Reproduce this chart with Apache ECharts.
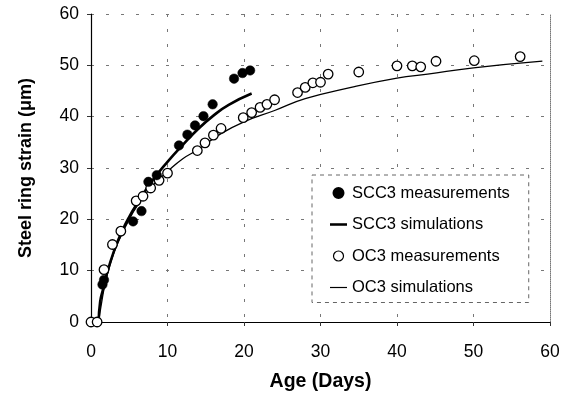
<!DOCTYPE html>
<html>
<head>
<meta charset="utf-8">
<script src="https://cdn.jsdelivr.net/npm/echarts@6/dist/echarts.min.js"></script>
<style>html,body{margin:0;padding:0;background:#fff}#c{width:576px;height:400px}</style>
</head>
<body>
<div id="c"></div>
<script>
const xTicks = [0, 10, 20, 30, 40, 50, 60];
const yTicks = [0, 10, 20, 30, 40, 50, 60];

const scc3MeasX = [1.5, 1.7, 5.5, 6.6, 7.5, 8.6, 11.5, 12.6, 13.6, 14.7, 15.9, 18.7, 19.8, 20.8];
const scc3MeasY = [7.3, 8.2, 19.6, 21.6, 27.3, 28.6, 34.4, 36.5, 38.3, 40.1, 42.4, 47.4, 48.5, 49.0];

const scc3SimX = [1.0, 1.2, 1.6, 2, 3, 4, 5, 6, 8, 10, 12, 14, 16, 18, 21];
const scc3SimY = [0, 4, 6.5, 9, 13.8, 17.5, 20.5, 23, 27.5, 31.2, 34.5, 37.6, 40.2, 42.3, 44.5];

const oc3MeasX = [0, 0.8, 1.7, 2.8, 3.9, 5.9, 6.8, 7.8, 8.9, 10.0, 13.9, 14.9, 16.0, 17.0, 19.9, 21.0, 22.1, 23.0, 24.0, 27.0, 28.0, 29.0, 30.0, 31.0, 35.0, 40.0, 42.0, 43.1, 45.1, 50.1, 56.1];
const oc3MeasY = [0, 0, 10.2, 15.1, 17.7, 23.6, 24.5, 26.1, 27.6, 29.0, 33.4, 34.9, 36.4, 37.7, 39.8, 40.8, 41.8, 42.4, 43.3, 44.7, 45.7, 46.6, 46.7, 48.3, 48.7, 49.9, 49.9, 49.7, 50.8, 50.9, 51.7];

const oc3SimX = [1.0, 1.3, 2, 3, 4, 5, 6, 8, 10, 12, 14, 17, 20, 24, 28, 34, 40, 44, 50, 59];
const oc3SimY = [0, 3, 8.5, 13.5, 17, 20, 22.5, 26.5, 29.3, 31.8, 33.6, 36.7, 39.0, 41.2, 43.5, 45.7, 47.5, 48.3, 49.5, 50.8];

const zip = (a, b) => a.map((v, i) => [v, b[i]]);
const font = '"Liberation Sans", Arial, sans-serif';

const chart = echarts.init(document.getElementById('c'));
chart.setOption({
  animation: false,
  grid: { left: 91, right: 26, top: 14, bottom: 78, containLabel: false },
  xAxis: {
    type: 'value', min: xTicks[0], max: xTicks[xTicks.length - 1], interval: 10,
    name: 'Age (Days)', nameLocation: 'middle', nameGap: 50,
    nameTextStyle: { fontFamily: font, fontWeight: 'bold', fontSize: 19.5, color: '#000' },
    axisLine: { show: true, onZero: false, lineStyle: { color: '#000', width: 1.2 } },
    axisTick: { show: true, length: 4, lineStyle: { color: '#333' } },
    axisLabel: { fontFamily: font, fontSize: 17.5, color: '#000', margin: 21 },
    splitLine: { show: true, showMinLine: false, showMaxLine: false, lineStyle: { color: '#777', type: [3, 12], width: 1 } }
  },
  yAxis: [{
    type: 'value', min: yTicks[0], max: yTicks[yTicks.length - 1], interval: 10,
    name: 'Steel ring strain (μm)', nameLocation: 'middle', nameGap: 56,
    nameTextStyle: { fontFamily: font, fontWeight: 'bold', fontSize: 18, color: '#000' },
    axisLine: { show: true, onZero: false, lineStyle: { color: '#000', width: 1.2 } },
    axisTick: { show: true, length: 4, lineStyle: { color: '#333' } },
    axisLabel: { fontFamily: font, fontSize: 17.5, color: '#000', margin: 12 },
    splitLine: { show: true, showMinLine: false, showMaxLine: true, lineStyle: { color: '#777', type: [3, 12], width: 1 } }
  }, {
    type: 'value', min: 0, max: 60, position: 'right',
    axisLine: { show: true, onZero: false, lineStyle: { color: '#777', type: 'dotted', width: 1 } },
    axisTick: { show: false }, axisLabel: { show: false }, splitLine: { show: false }
  }],
  legend: {
    orient: 'vertical', left: 312, top: 175,
    padding: [9, 19, 6, 18], itemGap: 13.5,
    itemWidth: 17, itemHeight: 10,
    borderColor: '#666', borderWidth: 1, borderType: [4, 4],
    backgroundColor: '#fff',
    textStyle: { fontFamily: font, fontSize: 16.5, color: '#000', lineHeight: 18 },
    data: [
      { name: 'SCC3 measurements', icon: 'circle', itemStyle: { color: '#000', opacity: 1 } },
      { name: 'SCC3 simulations', icon: 'path://M0,0h20v3h-20z', itemStyle: { color: '#000', borderWidth: 0 } },
      { name: 'OC3 measurements', icon: 'circle', itemStyle: { color: '#fff', borderColor: '#000', borderWidth: 1.2 } },
      { name: 'OC3 simulations', icon: 'path://M0,0h20v1.4h-20z', itemStyle: { color: '#000', borderWidth: 0 } }
    ]
  },
  series: [
    {
      name: 'SCC3 simulations', type: 'line', data: zip(scc3SimX, scc3SimY),
      showSymbol: false, symbol: 'none', smooth: true, z: 3,
      lineStyle: { color: '#000', width: 2.6 }, itemStyle: { color: '#000' }
    },
    {
      name: 'OC3 simulations', type: 'line', data: zip(oc3SimX, oc3SimY),
      showSymbol: false, symbol: 'none', smooth: true, z: 3,
      lineStyle: { color: '#000', width: 1.3 }, itemStyle: { color: '#000' }
    },
    {
      name: 'OC3 measurements', type: 'scatter', data: zip(oc3MeasX, oc3MeasY),
      symbol: 'circle', symbolSize: 9.5, z: 4,
      itemStyle: { color: '#fff', borderColor: '#000', borderWidth: 1.3, opacity: 1 }
    },
    {
      name: 'SCC3 measurements', type: 'scatter', data: zip(scc3MeasX, scc3MeasY),
      symbol: 'circle', symbolSize: 9.5, z: 5,
      itemStyle: { color: '#000', borderColor: '#000', borderWidth: 0.5, opacity: 1 }
    }
  ]
});
</script>
</body>
</html>
